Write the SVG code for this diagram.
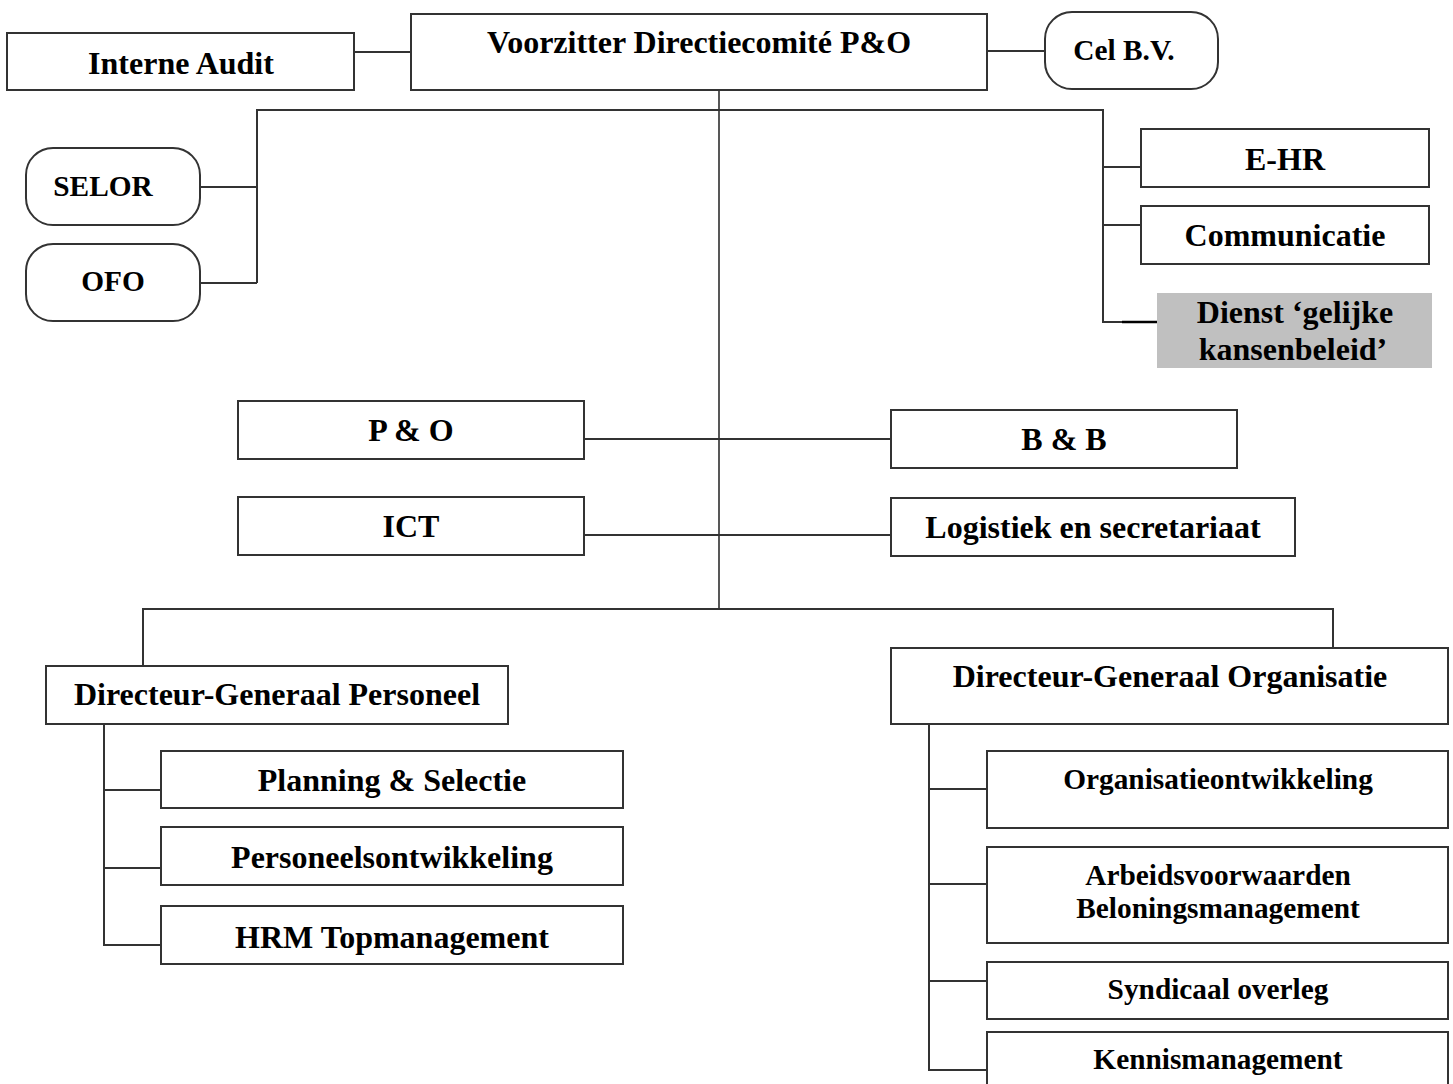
<svg xmlns="http://www.w3.org/2000/svg" width="1453" height="1084" viewBox="0 0 1453 1084">
<style>
.box{fill:#fff;stroke:#333;stroke-width:2}
.grey{fill:#c0c0c0;stroke:none}
.ln{fill:none;stroke:#333;stroke-width:2}
.thin{fill:none;stroke:#111;stroke-width:1.4}
text{font-family:"Liberation Serif","Times New Roman",serif;font-weight:bold;fill:#000;text-anchor:middle}
.l{font-size:32px}
.s{font-size:29.33px}
</style>
<rect width="1453" height="1084" fill="#fff"/>
<g id="connectors">
<line class="ln" x1="354" y1="52" x2="411" y2="52"/>
<line class="ln" x1="987" y1="51" x2="1045" y2="51"/>
<line class="thin" x1="719" y1="90" x2="719" y2="609"/>
<polyline class="ln" points="257,283 257,110 1103,110 1103,322 1157,322"/>
<line x1="1122" y1="322" x2="1160" y2="322" stroke="#000" stroke-width="2.5"/>
<line class="ln" x1="200" y1="187" x2="257" y2="187"/>
<line class="ln" x1="200" y1="283" x2="257" y2="283"/>
<line class="ln" x1="1103" y1="167" x2="1141" y2="167"/>
<line class="ln" x1="1103" y1="225" x2="1141" y2="225"/>
<line class="ln" x1="584" y1="439" x2="891" y2="439"/>
<line class="ln" x1="584" y1="535" x2="891" y2="535"/>
<polyline class="ln" points="143,666 143,609 1333,609 1333,648"/>
<polyline class="ln" points="104,724 104,945 161,945"/>
<line class="ln" x1="104" y1="790" x2="161" y2="790"/>
<line class="ln" x1="104" y1="868" x2="161" y2="868"/>
<polyline class="ln" points="929,724 929,1070 987,1070"/>
<line class="ln" x1="929" y1="789" x2="987" y2="789"/>
<line class="ln" x1="929" y1="884" x2="987" y2="884"/>
<line class="ln" x1="929" y1="981" x2="987" y2="981"/>
</g>
<g id="interne-audit"><rect class="box" x="7" y="33" width="347" height="57"/><text class="l" x="181" y="74">Interne Audit</text></g>
<g id="voorzitter"><rect class="box" x="411" y="14" width="576" height="76"/><text class="l" x="699" y="53">Voorzitter Directiecomité P&amp;O</text></g>
<g id="cel-bv"><rect class="box" x="1045" y="12" width="173" height="77" rx="27" ry="27"/><text class="s" x="1124" y="60">Cel B.V.</text></g>
<g id="selor"><rect class="box" x="26" y="148" width="174" height="77" rx="27" ry="27"/><text class="s" x="103" y="196">SELOR</text></g>
<g id="ofo"><rect class="box" x="26" y="244" width="174" height="77" rx="27" ry="27"/><text class="s" x="113" y="291">OFO</text></g>
<g id="e-hr"><rect class="box" x="1141" y="129" width="288" height="58"/><text class="l" x="1285" y="170">E-HR</text></g>
<g id="communicatie"><rect class="box" x="1141" y="206" width="288" height="58"/><text class="l" x="1285" y="246">Communicatie</text></g>
<g id="dienst"><rect class="grey" x="1157" y="293" width="275" height="75"/><text class="l" x="1295" y="323">Dienst ‘gelijke</text><text class="l" x="1293" y="360">kansenbeleid’</text></g>
<g id="p-o"><rect class="box" x="238" y="401" width="346" height="58"/><text class="l" x="411" y="441">P &amp; O</text></g>
<g id="b-b"><rect class="box" x="891" y="410" width="346" height="58"/><text class="l" x="1064" y="450">B &amp; B</text></g>
<g id="ict"><rect class="box" x="238" y="497" width="346" height="58"/><text class="l" x="411" y="537">ICT</text></g>
<g id="logistiek"><rect class="box" x="891" y="498" width="404" height="58"/><text class="l" x="1093" y="538">Logistiek en secretariaat</text></g>
<g id="dg-personeel"><rect class="box" x="46" y="666" width="462" height="58"/><text class="l" x="277" y="705">Directeur-Generaal Personeel</text></g>
<g id="dg-organisatie"><rect class="box" x="891" y="648" width="557" height="76"/><text class="l" x="1170" y="687">Directeur-Generaal Organisatie</text></g>
<g id="planning"><rect class="box" x="161" y="751" width="462" height="57"/><text class="l" x="392" y="791">Planning &amp; Selectie</text></g>
<g id="personeelsontwikkeling"><rect class="box" x="161" y="827" width="462" height="58"/><text class="l" x="392" y="868">Personeelsontwikkeling</text></g>
<g id="hrm"><rect class="box" x="161" y="906" width="462" height="58"/><text class="l" x="392" y="948">HRM Topmanagement</text></g>
<g id="organisatieontwikkeling"><rect class="box" x="987" y="751" width="461" height="77"/><text class="s" x="1218" y="789">Organisatieontwikkeling</text></g>
<g id="arbeidsvoorwaarden"><rect class="box" x="987" y="847" width="461" height="96"/><text class="s" x="1218" y="885">Arbeidsvoorwaarden</text><text class="s" x="1218" y="918">Beloningsmanagement</text></g>
<g id="syndicaal"><rect class="box" x="987" y="962" width="461" height="57"/><text class="s" x="1218" y="999">Syndicaal overleg</text></g>
<g id="kennismanagement"><rect class="box" x="987" y="1032" width="461" height="60"/><text class="s" x="1218" y="1069">Kennismanagement</text></g>
</svg>
